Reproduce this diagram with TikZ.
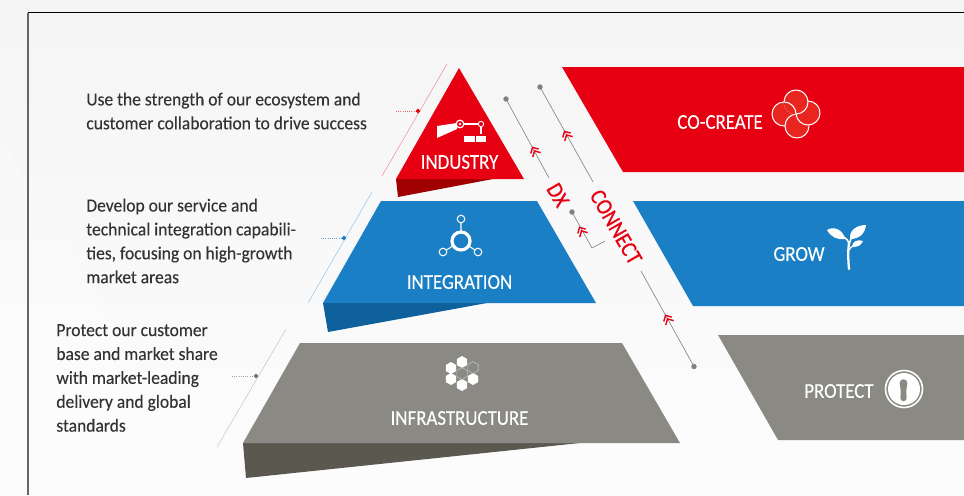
\documentclass[tikz,border=0pt]{standalone}
\usepackage{fontspec}
\setmainfont[FakeStretch=0.95,FakeBold=0.15]{Carlito}
\newfontfamily\labelfont[FakeStretch=0.895,FakeBold=0.15]{Carlito}
\newfontfamily\sidefont[FakeStretch=0.9,FakeBold=0.6]{Carlito}
\definecolor{fjred}{HTML}{E60012}
\definecolor{fjreddark}{HTML}{A00000}
\definecolor{fjblue}{HTML}{1A7FC4}
\definecolor{fjbluedark}{HTML}{0E619B}
\definecolor{fjgray}{HTML}{8A8983}
\definecolor{fjgraydark}{HTML}{5B5850}
\definecolor{leafred}{HTML}{E8251E}
\tikzset{
	bodytext/.style={anchor=west, align=left, text=black!80, font=\fontsize{10.5}{13.6}\selectfont, inner sep=0pt},
	bandlabel/.style={text=white, font=\labelfont\fontsize{12}{12}\selectfont, inner sep=0pt},
	sidelabel/.style={text=fjred, rotate=-60, font=\sidefont\fontsize{13}{13}\selectfont, inner sep=0pt},
	leader/.style={line width=0.35pt, black!50!white},
	bracket/.style={line width=0.25pt},
	bracketstub/.style={line width=0.25pt, densely dotted},
}
\begin{document}
\begin{tikzpicture}[x=0.02cm, y=-0.02cm]
\useasboundingbox (0,0) rectangle (964,495);

% background
\shade[top color=black!4, bottom color=black!1] (0,0) rectangle (964,495);
\fill[white, opacity=0.25] (0,137) -- (215,495) -- (0,495) -- cycle;
\fill[white, opacity=0.25] (0,330) -- (100,495) -- (0,495) -- cycle;
\draw[line width=0.7pt, black!60!white] (28,12.5) -- (28,495);
\draw[line width=0.6pt, black] (28,12.5) -- (964,12.5);

% pyramid
\fill[fjreddark] (396,179) -- (398,197) -- (493,179) -- cycle;
\fill[fjred] (459,68) -- (524,179) -- (396,179) -- cycle;
\fill[fjbluedark] (323,303) -- (328,332) -- (487,303) -- cycle;
\fill[fjblue] (381,201) -- (537,201) -- (596,303) -- (323,303) -- cycle;
\fill[fjgraydark] (243,443) -- (246,478) -- (580,443) -- cycle;
\fill[fjgray] (300,343) -- (622,343) -- (680,443) -- (243,443) -- cycle;

% bands
\fill[fjred] (562,67) -- (964,67) -- (964,172) -- (623,172) -- cycle;
\fill[fjblue] (633,201) -- (964,201) -- (964,306) -- (693,306) -- cycle;
\fill[fjgray] (718,335) -- (964,335) -- (964,440) -- (778,440) -- cycle;

\node[bandlabel] (industry) at (459.5,162) {INDUSTRY};
\node[bandlabel] (integration) at (459.5,282) {INTEGRATION};
\node[bandlabel] (infrastructure) at (459.5,418) {INFRASTRUCTURE};
\node[bandlabel] (cocreate) at (720,122) {CO-CREATE};
\node[bandlabel] (grow) at (799,254) {GROW};
\node[bandlabel] (protect) at (839,391) {PROTECT};

\node[sidelabel] (dx) at (558,195) {DX};
\node[sidelabel] (connect) at (616,227) {CONNECT};

% texts on the left
\node[bodytext] (usetext) at (86,111) {Use the strength of our ecosystem and\\customer collaboration to drive success};
\node[bodytext] (developtext) at (86,241) {Develop our service and\\technical integration capabili-\\ties, focusing on high-growth\\market areas};
\node[bodytext] (protecttext) at (56,378) {Protect our customer\\base and market share\\with market-leading\\delivery and global\\standards};

% brackets
\coordinate (redtop) at (447,64);
\coordinate (redbot) at (382,176);
\coordinate (reddot) at (418,111);
\coordinate (redstub) at (396,111);
\coordinate (bluetop) at (372,192);
\coordinate (bluebot) at (308,303);
\coordinate (bluedot) at (344,238);
\coordinate (bluestub) at (321,238);
\coordinate (graytop) at (286,329);
\coordinate (graybot) at (217,447);
\coordinate (graydot) at (256,376);
\coordinate (graystub) at (232,376);

\draw[bracket, fjred!50!white] (redtop) -- (redbot);
\draw[bracketstub, fjred!60!white] (redstub) -- (reddot);
\filldraw[fjred] (reddot) circle[radius=1.8];
\draw[bracket, fjblue!50!white] (bluetop) -- (bluebot);
\draw[bracketstub, fjblue!70!white] (bluestub) -- (bluedot);
\filldraw[fjblue] (bluedot) circle[radius=1.8];
\draw[bracket, black!25!white] (graytop) -- (graybot);
\draw[bracketstub, black!35!white] (graystub) -- (graydot);
\filldraw[black!55!white] (graydot) circle[radius=1.8];

% leader lines
\coordinate (dxa) at (506,99);
\coordinate (dxb) at (549,178);
\coordinate (dxc) at (572,212);
\coordinate (dxd) at (592,248);
\coordinate (dxe) at (605,241);
\coordinate (cona) at (540,87);
\coordinate (conb) at (593,182);
\coordinate (conc) at (641,271);
\coordinate (cond) at (694,366.5);

\draw[leader] (dxa) -- (dxb);
\draw[leader] (dxc) -- (dxd) -- (dxe);
\draw[leader] (cona) -- (conb);
\draw[leader] (conc) -- (cond);

\foreach \p in {dxa,dxc,cona,cond}
	{\filldraw[black!50!white] (\p) circle[radius=2.3];}

\foreach \x/\y in {534/150, 566/134, 581/230, 667/318}
	{\begin{scope}[shift={(\x,\y)}, rotate=119]
	 \draw[fjred, line width=0.8pt] (-5.5,-4.5) -- (-1,0) -- (-5.5,4.5);
	 \draw[fjred, line width=0.8pt] (-1.5,-4.5) -- (3,0) -- (-1.5,4.5);
	 \end{scope}}

% robot arm
\fill[white] (437,126) -- (457,123) -- (457,129) -- (437,138) -- cycle;
\draw[white, line width=0.6pt] (460,124) -- (481,124) -- (481,134);
\draw[white, line width=0.7pt, fill=fjred] (460,124) circle[radius=3.8];
\draw[white, line width=0.5pt, fill=fjred] (481,124) circle[radius=2.7];
\fill[white] (460,124) circle[radius=1.3];
\fill[white] (464,136) rectangle (475,142);
\fill[white] (476,136) rectangle (486,142);

% hub
\draw[white, line width=0.6pt] (461,219) -- (461,241) (443,252) -- (461,241) -- (478,252);
\draw[white, line width=1.8pt, fill=fjblue] (461,241) circle[radius=9];
\foreach \x/\y in {461/219, 443/252, 478/252}
	{\draw[white, line width=0.6pt, fill=fjblue] (\x,\y) circle[radius=3.8];}

% hexagons
\foreach \x/\y in {462/362, 451/368, 451/379, 462/385, 473/379}
	{\fill[white] (\x,\y) +(90:6) -- +(30:6) -- +(-30:6) -- +(-90:6) -- +(-150:6) -- +(150:6) -- cycle;}
\foreach \x/\y in {473/367.5, 462/373.5}
	{\draw[white!75!black, line width=0.35pt] (\x,\y) +(90:6) -- +(30:6) -- +(-30:6) -- +(-90:6) -- +(-150:6) -- +(150:6) -- cycle;}

% four circles
\tikzset{ring/.style={draw=white, fill=leafred, line width=0.6pt}}
\draw[ring] (784,114) circle[radius=12];
\draw[ring] (797,126) circle[radius=12];
\draw[ring] (808,113) circle[radius=12];
\draw[ring] (796,102) circle[radius=12];
\begin{scope}
\clip (796,102) circle[radius=12.5];
\draw[ring] (784,114) circle[radius=12];
\end{scope}

% sprout
\draw[white, line width=1.3pt, line cap=round] (849,269) .. controls (848,258) and (848,250) .. (849,243);
\draw[white, line width=0.9pt] (849,245) .. controls (849,241) and (846,238) .. (842,236);
\draw[white, line width=0.9pt] (849,245) .. controls (850,241) and (851,238) .. (853,235);
\draw[white, line width=0.7pt] (849,250) .. controls (850,248) and (852,246) .. (855,245);
\fill[white] (827,230) .. controls (833,226) and (843,229) .. (845,239) .. controls (837,240) and (831,237) .. (827,230) -- cycle;
\fill[white] (866,225) .. controls (857,225) and (849,230) .. (850,239) .. controls (859,239) and (865,234) .. (866,225) -- cycle;
\fill[white] (863,241) .. controls (858,239) and (852,241) .. (852,247) .. controls (857,247) and (861,246) .. (863,241) -- cycle;

% keyhole
\draw[white, line width=0.9pt] (904,389) circle[radius=18.5];
\fill[white] (904,389) circle[radius=16];
\fill[fjgray] (899.7,383) .. controls (899.7,378) and (907.3,378) .. (907.3,383) .. controls (907.3,387) and (906,389) .. (906.3,393) .. controls (906.5,396) and (907,398) .. (906,400) .. controls (905,401.7) and (902,401.7) .. (901,400) .. controls (900,398) and (900.5,396) .. (900.7,393) .. controls (901,389) and (899.7,387) .. (899.7,383) -- cycle;
\end{tikzpicture}
\end{document}
